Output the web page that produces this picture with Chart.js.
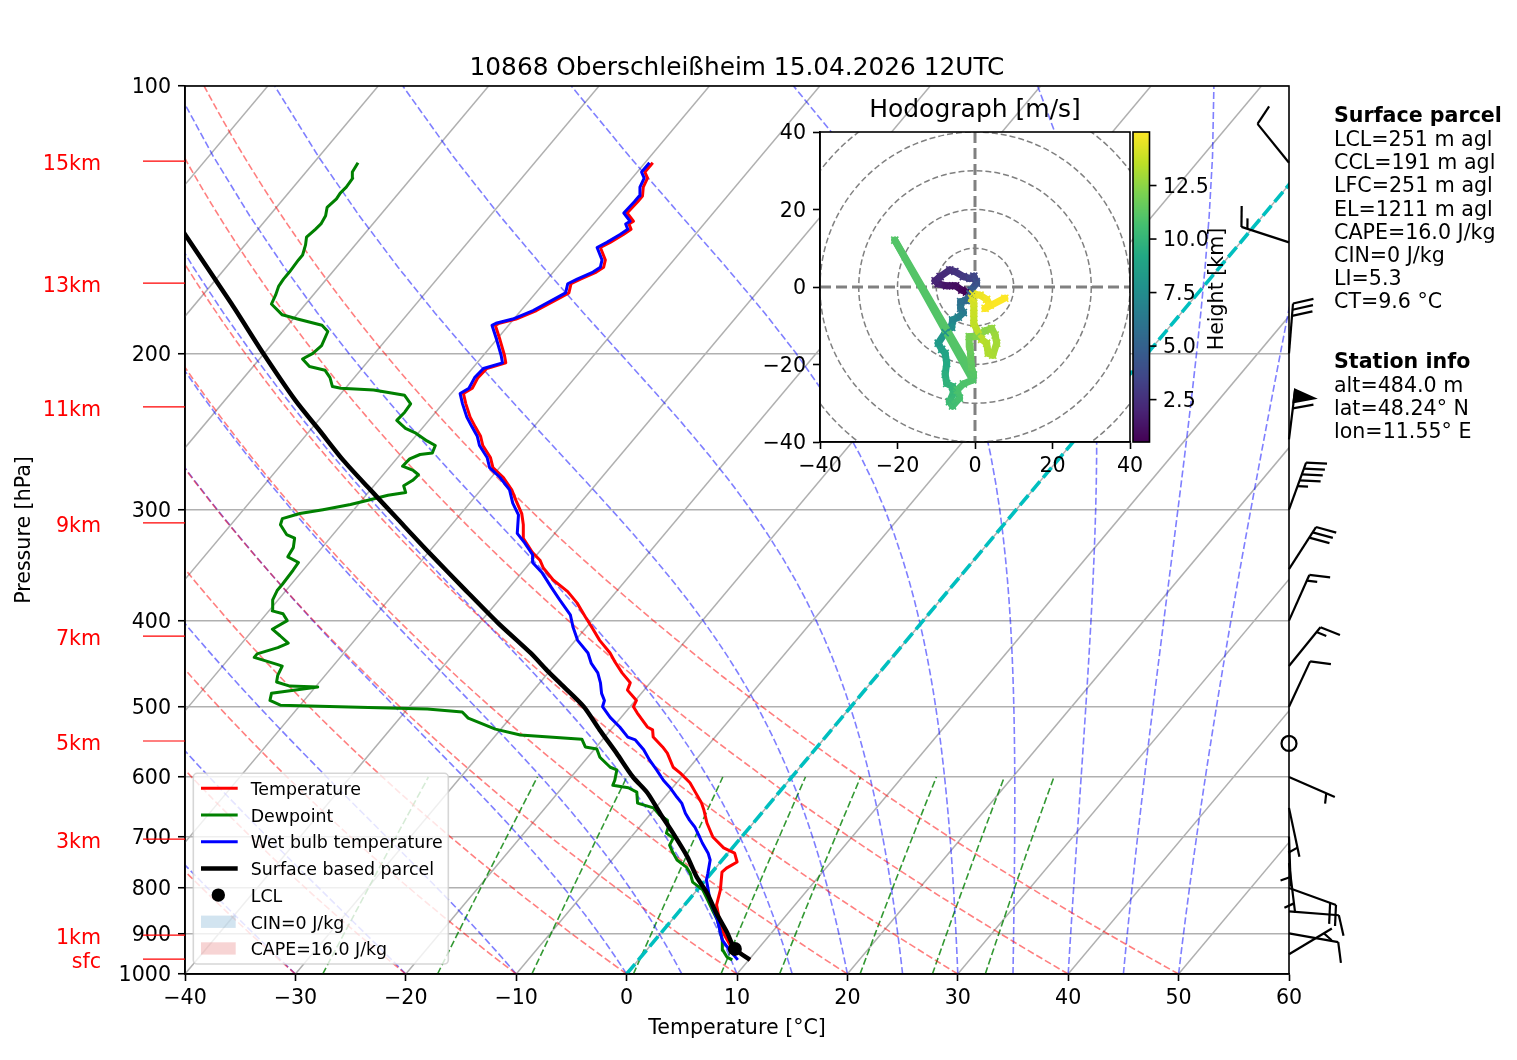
<!DOCTYPE html>
<html lang="en">
<head>
<meta charset="UTF-8">
<title>10868 Oberschleißheim skew-T</title>
<script src="https://cdn.jsdelivr.net/npm/chart.js"></script>
<style>
  * { margin: 0; padding: 0; box-sizing: border-box; }
  body { width: 1517px; height: 1060px; background: #fff; position: relative; overflow: hidden; }
  #skewt { position: absolute; left: 0; top: 0; }
  #hodo { position: absolute; left: 700px; top: 80px; }
</style>
</head>
<body>
<canvas id="skewt" width="1517" height="1060"></canvas>
<canvas id="hodo" width="560" height="420"></canvas>
<script>
// ---- sounding data ----
const tempPressure = [964, 947, 928, 904, 874, 836, 804, 768, 760, 748,
  731, 721, 701, 676, 653, 642, 624, 609, 594, 585,
  564, 555, 541, 531, 527, 508, 500, 492, 479, 470,
  458, 445, 435, 421, 407, 396, 382, 371, 360, 349,
  342, 335, 323, 312, 303, 293, 285, 276, 269, 262,
  254, 248, 242, 236, 228, 222, 219, 213, 208, 205,
  201, 193, 186, 185, 183, 179, 173, 171, 167, 165,
  162, 160, 157, 152, 150, 147, 145, 143, 142, 139,
  135, 133, 130, 127, 125, 122];
const temperature = [10.1, 8.7, 7.2, 5.9, 4.5, 2.9, 2.1, 0.9, 1.0, 1.5,
  0.6, -0.8, -2.6, -4.2, -5.5, -6.2, -7.6, -8.8, -10.4, -11.5,
  -13.1, -14.0, -15.6, -16.2, -16.9, -18.9, -19.7, -19.9, -21.5, -21.8,
  -23.3, -24.8, -25.9, -27.8, -29.5, -30.9, -32.7, -34.4, -36.6, -38.4,
  -39.3, -40.6, -42.5, -43.5, -44.5, -46.0, -47.2, -48.9, -50.6, -51.6,
  -53.2, -54.1, -55.3, -56.5, -57.9, -58.9, -58.5, -58.8, -58.7, -57.4,
  -58.1, -59.7, -61.2, -61.0, -59.8, -58.6, -57.4, -57.0, -57.5, -57.0,
  -56.1, -55.8, -56.2, -57.6, -57.1, -56.5, -56.2, -56.8, -56.6, -57.8,
  -57.7, -57.7, -58.3, -58.6, -59.3, -59.3];

const dewPressure = [964, 957, 940, 916, 892, 869, 847, 825, 804, 788,
  770, 758, 744, 729, 716, 703, 694, 683, 671, 662,
  650, 642, 624, 617, 613, 605, 589, 585, 570, 558,
  555, 544, 538, 530, 515, 507, 503, 498, 492, 483,
  475, 474, 469, 461, 450, 448, 440, 436, 429, 424,
  416, 409, 400, 393, 390, 379, 370, 364, 351, 344,
  339, 331, 323, 320, 312, 307, 303, 300, 296, 293,
  289, 287, 282, 278, 274, 271, 268, 263, 260, 259,
  254, 251, 246, 243, 238, 233, 228, 223, 220, 219,
  218, 213, 209, 207, 203, 200, 196, 189, 186, 183,
  181, 176, 172, 168, 165, 162, 157, 155, 151, 148,
  145, 143, 140, 137, 134, 132, 130, 127, 125, 122];
const dewpoint = [8.5, 7.8, 6.9, 6.1, 5.1, 4.1, 2.9, 1.7, 0.5, -1.0,
  -1.9, -2.7, -4.1, -5.1, -5.9, -6.1, -7.1, -7.4, -8.0, -9.1,
  -10.2, -12.0, -12.9, -14.0, -15.6, -15.8, -16.4, -17.2, -18.9, -19.8,
  -21.0, -21.9, -27.8, -30.5, -33.8, -34.8, -38.2, -51.8, -53.1, -53.5,
  -49.8, -52.4, -53.9, -54.3, -54.6, -55.2, -57.8, -57.8, -56.4, -55.8,
  -57.1, -58.3, -57.6, -58.5, -59.7, -60.5, -60.8, -60.8, -60.9, -61.0,
  -62.4, -62.6, -63.2, -64.2, -65.5, -65.8, -64.6, -62.8, -60.7, -59.5,
  -58.0, -56.6, -57.3, -56.9, -56.8, -57.6, -58.9, -58.8, -58.2, -57.2,
  -57.5, -58.6, -60.2, -61.5, -62.9, -62.8, -62.9, -64.1, -67.3, -70.4,
  -71.3, -72.2, -73.2, -74.9, -76.1, -75.6, -75.4, -75.9, -76.9, -79.6,
  -81.3, -83.1, -83.4, -83.8, -83.9, -83.9, -84.0, -84.0, -84.5, -85.0,
  -84.8, -84.7, -84.9, -85.4, -85.2, -85.3, -85.2, -85.3, -85.8, -86.0];

const wbPressure = [964, 940, 916, 869, 825, 804, 784, 770, 744, 731,
  712, 701, 683, 671, 659, 642, 632, 616, 605, 589,
  574, 559, 545, 541, 527, 514, 500, 492, 483, 470,
  458, 447, 435, 421, 407, 394, 379, 367, 353, 344,
  337, 327, 319, 304, 295, 285,
  276, 269, 262, 254, 248, 242, 236, 228, 222, 219,
  213, 208, 205, 201, 193, 186, 185, 183, 179, 173,
  171, 167, 165, 162, 160, 157, 152, 150, 147, 145,
  143, 142, 139, 135, 133, 130, 127, 125, 122];
const wetBulb = [9.0, 7.5, 6.1, 4.1, 1.9, 1.0, 0.1, -0.3, -1.1, -1.8,
  -3.1, -3.8, -5.0, -6.0, -6.9, -8.0, -8.9, -10.3, -11.4, -12.8,
  -14.2, -15.5, -17.0, -17.9, -19.4, -21.0, -22.5, -22.8, -23.6, -24.5,
  -25.5, -26.8, -27.9, -29.8, -31.2, -32.4, -34.5, -36.2, -38.2, -39.8,
  -40.4, -42.0, -43.4, -44.7, -46.1, -47.4,
  -49.2, -50.9, -51.9, -53.5, -54.4, -55.6, -56.8, -58.2, -59.2, -58.8,
  -59.1, -59.0, -57.7, -58.4, -60.0, -61.5, -61.3, -60.1, -58.9, -57.7,
  -57.3, -57.8, -57.3, -56.4, -56.1, -56.5, -57.9, -57.4, -56.8, -56.5,
  -57.1, -56.9, -58.1, -58.0, -58.0, -58.6, -58.9, -59.6, -59.6];

const parcelPressure = [964, 937, 899, 854, 810, 778, 738, 694, 659, 625,
  600, 564, 531, 500, 475, 455, 435, 402, 370, 336,
  308, 285, 264, 244, 226, 200, 176, 147, 129];
const parcelTemp = [10.1, 7.9, 6.0, 3.5, 1.1, -1.0, -3.4, -6.5, -9.2, -11.9,
  -14.4, -17.7, -21.0, -24.2, -27.5, -30.3, -33.1, -38.4, -43.7, -49.8,
  -55.2, -60.0, -64.7, -69.2, -73.6, -80.1, -86.7, -96.2, -103.0];
const lclPressure = 937;
const lclTemp = 7.9;

// wind barbs on the right edge (direction wind comes from, speed in kt)
const barbPressure = [950, 900, 850, 800, 750, 700, 650, 600, 550, 500, 450, 400, 350, 300, 250, 200, 150, 122];
const barbDirection = [59, 100, 94.5, 110, 173, 178, 168, 113.6, 0, 25, 39, 24, 32.7, 20, 7, 4.6, 288, 321];
const barbSpeed = [5, 10, 10, 20, 5, 5, 5, 5, 0, 10, 15, 15, 30, 45, 60, 30, 15, 10];

// height markers on the left
const heightLabels = ['sfc', '1km', '3km', '5km', '7km', '9km', '11km', '13km', '15km'];
const heightPressure = [962, 904, 704.7, 546.5, 416.3, 310.5, 229.8, 166.7, 121.5];

// hodograph (u, v in m/s, height in km)
const hodoHeight = [0.52, 0.7, 1.0, 1.3, 1.7, 2.0, 2.2, 2.4, 2.6, 2.9,
  3.2, 3.5, 3.8, 4.2, 4.6, 5.0, 5.4, 5.8, 6.1, 6.4,
  6.8, 7.2, 7.5, 7.9, 8.3, 8.6, 8.9, 9.2, 9.5, 9.8,
  10.0, 10.1, 10.3, 10.5, 10.7, 10.8, 10.9, 11.0, 11.05, 11.1,
  11.3, 11.5, 11.8, 12.0, 12.2, 12.4, 12.6, 12.8, 13.0, 13.1,
  13.2, 13.3, 13.4, 13.6, 13.8, 14.0, 14.2, 14.4, 14.6, 14.8,
  14.9, 14.95, 15.0];
const hodoU = [-2.2, -3.4, -5.0, -7.3, -9.5, -10.3, -9.0, -6.5, -5.2, -3.0,
  -1.3, -0.3, 0.3, 0.4, -1.0, -1.3, -2.3, -3.7, -3.7, -3.0,
  -4.3, -5.8, -6.0, -7.7, -9.5, -8.6, -7.7, -7.3, -7.7, -7.3,
  -5.8, -5.6, -6.6, -5.8, -4.0, -4.6, -3.0, -0.6, -20.7, -0.4,
  -0.9, -1.1, -1.3, -1.5, 0.4, 2.6, 4.3, 5.2, 5.6, 4.6,
  3.4, 3.0, 1.7, -0.3, -0.3, -0.3, -0.9, -0.6, 1.3, 3.0,
  3.9, 2.6, 7.7];
const hodoV = [-1.3, -0.8, 0.3, 0.3, 0.8, 1.6, 2.7, 4.4, 4.0, 2.7,
  2.2, 2.8, 1.4, 1.0, -0.8, -1.8, -3.5, -3.8, -5.5, -6.6,
  -7.8, -8.5, -10.4, -11.8, -14.5, -16.1, -17.1, -19.7, -22.5, -24.9,
  -25.7, -27.4, -29.6, -30.7, -28.7, -26.6, -25.0, -24.0, 12.1, -22.7,
  -20.6, -18.0, -15.4, -12.8, -12.8, -11.3, -10.7, -12.4, -14.5, -17.6,
  -17.1, -14.5, -13.5, -9.4, -6.8, -4.2, -2.9, -1.8, -2.1, -3.2,
  -4.7, -5.5, -2.9];
const colorbarTicks = [2.5, 5.0, 7.5, 10.0, 12.5];

// background reference lines
const isothermTemps = [-110, -100, -90, -80, -70, -60, -50, -40, -30, -20, -10, 0, 10, 20, 30, 40, 50, 60];
const dryAdiabatT0 = [-40, -30, -20, -10, 0, 10, 20, 30, 40, 50];
const moistAdiabatT0 = [-40, -30, -20, -10, 0, 5, 10, 15, 20, 25, 30, 35, 40, 45, 50];
const mixingRatios = [0.0004, 0.001, 0.002, 0.004, 0.007, 0.01, 0.016, 0.024, 0.032];

const titleText = '10868 Oberschleißheim 15.04.2026 12UTC';
const parcelInfo = ['LCL=251 m agl', 'CCL=191 m agl', 'LFC=251 m agl', 'EL=1211 m agl',
  'CAPE=16.0 J/kg', 'CIN=0 J/kg', 'LI=5.3', 'CT=9.6 °C'];
const stationInfo = ['alt=484.0 m', 'lat=48.24° N', 'lon=11.55° E'];

const FONT = "'DejaVu Sans', 'Liberation Sans', sans-serif";
Chart.defaults.font.family = FONT;
Chart.defaults.color = '#000';

// ---- skew transform: x = T + SKEW * log10(1000/p) ----
const SKEW = 67.5;
function skewX(t, p) { return t + SKEW * Math.log10(1000 / p); }
function toPoints(pres, temps) {
  const n = Math.min(pres.length, temps.length);
  const out = [];
  for (let i = 0; i < n; i++) out.push({ x: skewX(temps[i], pres[i]), y: pres[i] });
  return out;
}

const bgLevels = [];
for (let i = 0; i <= 45; i++) bgLevels.push(1000 * Math.pow(10, -i / 45));

function dryAdiabat(t0) {
  return bgLevels.map(p => ({ x: skewX((t0 + 273.15) * Math.pow(p / 1000, 0.2857) - 273.15, p), y: p }));
}

function satMix(p, tK) {
  const tc = tK - 273.15;
  const es = 6.112 * Math.exp(17.67 * tc / (tc + 243.5));
  return 0.6219569 * es / (p - es);
}
function dTdp(p, tK) {
  const rs = satMix(p, tK);
  const Rd = 287.04749, Lv = 2.50084e6, Cp = 1004.6662, eps = 0.6219569;
  return (1 / p) * (Rd * tK + Lv * rs) / (Cp + Lv * Lv * rs * eps / (Rd * tK * tK));
}
function moistAdiabat(t0) {
  const pts = [{ x: skewX(t0, 1000), y: 1000 }];
  let p = 1000, t = t0 + 273.15;
  const dp = -5;
  while (p > 100) {
    const k1 = dTdp(p, t);
    const k2 = dTdp(p + dp / 2, t + dp / 2 * k1);
    const k3 = dTdp(p + dp / 2, t + dp / 2 * k2);
    const k4 = dTdp(p + dp, t + dp * k3);
    t += dp / 6 * (k1 + 2 * k2 + 2 * k3 + k4);
    p += dp;
    if ((1000 - p) % 20 === 0 || p <= 100) pts.push({ x: skewX(t - 273.15, p), y: p });
  }
  return pts;
}
function mixingLine(w) {
  const pts = [];
  for (let p = 1000; p >= 600; p -= 40) {
    const e = w * p / (0.6219569 + w);
    const l = Math.log(e / 6.112);
    pts.push({ x: skewX(243.5 * l / (17.67 - l), p), y: p });
  }
  return pts;
}

function lineSet(data, color, width, dash, order) {
  return {
    type: 'line', data: data, borderColor: color, borderWidth: width,
    borderDash: dash || [], pointRadius: 0, fill: false, tension: 0,
    order: order, clip: 0, borderJoinStyle: 'round'
  };
}

const datasets = [];
isothermTemps.forEach(t => datasets.push(lineSet([{ x: skewX(t, 1000), y: 1000 }, { x: skewX(t, 100), y: 100 }], '#b0b0b0', 1.5, null, 20)));
dryAdiabatT0.forEach(t => datasets.push(lineSet(dryAdiabat(t), 'rgba(255,0,0,0.5)', 1.6, [7, 3], 15)));
moistAdiabatT0.forEach(t => datasets.push(lineSet(moistAdiabat(t), 'rgba(0,0,255,0.5)', 1.6, [7, 3], 15)));
mixingRatios.forEach(w => datasets.push(lineSet(mixingLine(w), 'rgba(0,128,0,0.8)', 1.6, [7, 3], 15)));
datasets.push(lineSet([{ x: skewX(0, 1000), y: 1000 }, { x: skewX(0, 100), y: 100 }], '#00bfbf', 3.6, [13, 5], 10));
datasets.push(lineSet(toPoints(tempPressure, temperature), '#ff0000', 3, null, 4));
datasets.push(lineSet(toPoints(dewPressure, dewpoint), '#008000', 3, null, 3));
datasets.push(lineSet(toPoints(wbPressure, wetBulb), '#0000ff', 3, null, 2));
const parcelSet = lineSet(toPoints(parcelPressure, parcelTemp), '#000000', 4.5, null, 1);
parcelSet.tension = 0.25;
datasets.push(parcelSet);
datasets.push({
  type: 'line', data: [{ x: skewX(lclTemp, lclPressure), y: lclPressure }], showLine: false,
  pointRadius: 7, pointBackgroundColor: '#000', pointBorderWidth: 0, order: 0, clip: 10
});

// ---- wind barb drawing, matplotlib style ----
function drawBarb(ctx, x, y, dirDeg, speed) {
  const L = 50, h = 0.4 * L, w = 0.25 * L, sp = 0.125 * L;
  ctx.beginPath();
  if (speed < 2.5) {
    ctx.arc(x, y, 0.15 * L, 0, Math.PI * 2);
    ctx.stroke();
    return;
  }
  const a = dirDeg * Math.PI / 180;
  const sx = Math.sin(a), sy = -Math.cos(a);
  const px = -sy, py = sx;
  const tx = x + sx * L, ty = y + sy * L;
  let mag = Math.round(speed / 5) * 5;
  const nFlag = Math.floor(mag / 50); mag -= nFlag * 50;
  const nFull = Math.floor(mag / 10); mag -= nFull * 10;
  const half = mag >= 5;
  ctx.moveTo(x, y); ctx.lineTo(tx, ty); ctx.stroke();
  let off = 0;
  for (let i = 0; i < nFlag; i++) {
    ctx.beginPath();
    ctx.moveTo(tx - sx * off, ty - sy * off);
    ctx.lineTo(tx - sx * (off + w / 2) + px * h, ty - sy * (off + w / 2) + py * h);
    ctx.lineTo(tx - sx * (off + w), ty - sy * (off + w));
    ctx.closePath(); ctx.fill(); ctx.stroke();
    off += w + sp;
  }
  for (let i = 0; i < nFull; i++) {
    const rx = tx - sx * off, ry = ty - sy * off;
    ctx.beginPath(); ctx.moveTo(rx, ry);
    ctx.lineTo(rx + px * h + sx * w / 2, ry + py * h + sy * w / 2); ctx.stroke();
    off += sp;
  }
  if (half) {
    if (off === 0) off = 1.5 * sp;
    const rx = tx - sx * off, ry = ty - sy * off;
    ctx.beginPath(); ctx.moveTo(rx, ry);
    ctx.lineTo(rx + px * h / 2 + sx * w / 4, ry + py * h / 2 + sy * w / 4); ctx.stroke();
  }
}

const skewDecor = {
  id: 'skewDecor',
  beforeDraw(chart) {
    const ctx = chart.ctx;
    ctx.save(); ctx.fillStyle = '#fff'; ctx.fillRect(0, 0, chart.width, chart.height); ctx.restore();
  },
  afterDraw(chart) {
    const { ctx, chartArea: a } = chart;
    const ys = chart.scales.y;
    ctx.save();
    ctx.strokeStyle = '#000'; ctx.lineWidth = 1.6;
    ctx.strokeRect(a.left, a.top, a.right - a.left, a.bottom - a.top);

    // title and axis labels
    ctx.fillStyle = '#000'; ctx.textAlign = 'center'; ctx.textBaseline = 'alphabetic';
    ctx.font = '24.8px ' + FONT;
    ctx.fillText(titleText, (a.left + a.right) / 2, 75);
    ctx.font = '20.6px ' + FONT;
    ctx.fillText('Temperature [°C]', (a.left + a.right) / 2, 1034);
    ctx.save();
    ctx.translate(30, (a.top + a.bottom) / 2); ctx.rotate(-Math.PI / 2);
    ctx.fillText('Pressure [hPa]', 0, 0);
    ctx.restore();

    // height markers
    ctx.strokeStyle = '#ff0000'; ctx.fillStyle = '#ff0000'; ctx.lineWidth = 1.2; ctx.textAlign = 'right';
    heightLabels.forEach((lab, i) => {
      const y = ys.getPixelForValue(heightPressure[i]);
      ctx.beginPath(); ctx.moveTo(143, y); ctx.lineTo(a.left, y); ctx.stroke();
      ctx.fillText(lab, 101, y + 9);
    });

    // wind barbs
    ctx.strokeStyle = '#000'; ctx.fillStyle = '#000'; ctx.lineWidth = 2.2; ctx.lineJoin = 'miter';
    barbPressure.forEach((p, i) => drawBarb(ctx, a.right, ys.getPixelForValue(p), barbDirection[i], barbSpeed[i]));

    // parcel / station text
    ctx.textAlign = 'left'; ctx.fillStyle = '#000';
    ctx.font = 'bold 20.6px ' + FONT;
    ctx.fillText('Surface parcel', 1334, 122);
    ctx.font = '20.6px ' + FONT;
    parcelInfo.forEach((t, i) => ctx.fillText(t, 1334, 146 + i * 23.2));
    ctx.font = 'bold 20.6px ' + FONT;
    ctx.fillText('Station info', 1334, 368.3);
    ctx.font = '20.6px ' + FONT;
    stationInfo.forEach((t, i) => ctx.fillText(t, 1334, 391.7 + i * 23.2));

    // legend
    const lx = 193.3, ly = 773.3, lw = 255, lh = 190.7;
    ctx.beginPath();
    ctx.roundRect(lx, ly, lw, lh, 4);
    ctx.fillStyle = 'rgba(255,255,255,0.8)'; ctx.fill();
    ctx.strokeStyle = 'rgba(204,204,204,0.8)'; ctx.lineWidth = 1.6; ctx.stroke();
    const entries = [
      { label: 'Temperature', kind: 'line', color: '#ff0000', width: 3 },
      { label: 'Dewpoint', kind: 'line', color: '#008000', width: 3 },
      { label: 'Wet bulb temperature', kind: 'line', color: '#0000ff', width: 3 },
      { label: 'Surface based parcel', kind: 'line', color: '#000000', width: 4.5 },
      { label: 'LCL', kind: 'dot', color: '#000000' },
      { label: 'CIN=0 J/kg', kind: 'patch', color: 'rgba(31,119,180,0.2)' },
      { label: 'CAPE=16.0 J/kg', kind: 'patch', color: 'rgba(214,39,40,0.2)' }
    ];
    ctx.font = '17.4px ' + FONT;
    entries.forEach((e, i) => {
      const cy = 788.3 + i * 26.7;
      if (e.kind === 'line') {
        ctx.strokeStyle = e.color; ctx.lineWidth = e.width;
        ctx.beginPath(); ctx.moveTo(201, cy); ctx.lineTo(237.7, cy); ctx.stroke();
      } else if (e.kind === 'dot') {
        ctx.fillStyle = e.color; ctx.beginPath(); ctx.arc(218.3, cy, 6.7, 0, Math.PI * 2); ctx.fill();
      } else {
        ctx.fillStyle = e.color; ctx.fillRect(201, cy - 6.2, 34.7, 12.3);
      }
      ctx.fillStyle = '#000';
      ctx.fillText(e.label, 250.7, cy + 6.7);
    });
    ctx.restore();
  }
};

new Chart(document.getElementById('skewt'), {
  type: 'line',
  data: { datasets: datasets },
  options: {
    responsive: false, animation: false, devicePixelRatio: 1, events: [],
    layout: { padding: { left: 0, top: 86, right: 228, bottom: 0 } },
    plugins: { legend: { display: false }, tooltip: { enabled: false } },
    scales: {
      x: {
        type: 'linear', position: 'bottom', min: -40, max: 60,
        afterFit: s => { s.height = 86; },
        ticks: { stepSize: 10, font: { size: 20.6 }, color: '#000', padding: 5, maxRotation: 0, autoSkip: false,
          callback: v => String(v).replace('-', '\u2212') },
        grid: { drawOnChartArea: false, tickLength: 7, tickColor: '#000', tickWidth: 1.6 },
        border: { color: '#000', width: 1.6 }
      },
      y: {
        type: 'logarithmic', position: 'left', min: 100, max: 1000, reverse: true,
        afterFit: s => { s.width = 185; },
        afterBuildTicks: s => { s.ticks = [100, 200, 300, 400, 500, 600, 700, 800, 900, 1000].map(v => ({ value: v })); },
        ticks: { font: { size: 20.6 }, color: '#000', padding: 7, autoSkip: false, labelOffset: 2,
          callback: v => String(Math.round(v)) },
        grid: { color: '#b0b0b0', lineWidth: 1.5, tickLength: 7, tickColor: '#000', tickWidth: 1.6 },
        border: { color: '#000', width: 1.6 }
      }
    }
  },
  plugins: [skewDecor]
});

// ---- hodograph ----
const VIRIDIS = ['#440154', '#482475', '#414487', '#355f8d', '#2a788e', '#21918c', '#22a884', '#44bf70', '#7ad151', '#bddf26', '#fde725'];
function hexRgb(h) { return [parseInt(h.substr(1, 2), 16), parseInt(h.substr(3, 2), 16), parseInt(h.substr(5, 2), 16)]; }
function viridis(t) {
  t = Math.max(0, Math.min(1, t));
  const s = t * 10, i = Math.min(9, Math.floor(s)), f = s - i;
  const c0 = hexRgb(VIRIDIS[i]), c1 = hexRgb(VIRIDIS[i + 1]);
  return 'rgb(' + c0.map((c, k) => Math.round(c + (c1[k] - c) * f)).join(',') + ')';
}
const hMin = Math.min(...hodoHeight), hMax = Math.max(...hodoHeight);
const hNorm = h => (h - hMin) / (hMax - hMin);
const hodoPoints = hodoU.map((u, i) => ({ x: u, y: hodoV[i] }));
const hodoColors = hodoHeight.map(h => viridis(hNorm(h)));

const hodoDecor = {
  id: 'hodoDecor',
  beforeDraw(chart) {
    const { ctx, chartArea: a } = chart;
    ctx.save(); ctx.fillStyle = '#fff'; ctx.fillRect(a.left, a.top, a.right - a.left, a.bottom - a.top); ctx.restore();
  },
  beforeDatasetsDraw(chart) {
    const { ctx, chartArea: a } = chart;
    const xs = chart.scales.x, ys = chart.scales.y;
    const cx = xs.getPixelForValue(0), cy = ys.getPixelForValue(0);
    ctx.save();
    ctx.beginPath(); ctx.rect(a.left, a.top, a.right - a.left, a.bottom - a.top); ctx.clip();
    ctx.strokeStyle = '#808080'; ctx.lineWidth = 1.5; ctx.setLineDash([6, 3]);
    [10, 20, 30, 40, 50].forEach(r => {
      const rp = xs.getPixelForValue(r) - cx;
      ctx.beginPath(); ctx.arc(cx, cy, rp, 0, Math.PI * 2); ctx.stroke();
    });
    ctx.lineWidth = 3; ctx.setLineDash([11, 5]);
    ctx.beginPath(); ctx.moveTo(a.left, cy); ctx.lineTo(a.right, cy); ctx.stroke();
    ctx.beginPath(); ctx.moveTo(cx, a.top); ctx.lineTo(cx, a.bottom); ctx.stroke();
    ctx.restore();
  },
  afterDraw(chart) {
    const { ctx, chartArea: a } = chart;
    ctx.save();
    ctx.strokeStyle = '#000'; ctx.lineWidth = 1.6;
    ctx.strokeRect(a.left, a.top, a.right - a.left, a.bottom - a.top);
    ctx.fillStyle = '#000'; ctx.textAlign = 'center'; ctx.textBaseline = 'alphabetic';
    ctx.font = '25px ' + FONT;
    ctx.fillText('Hodograph [m/s]', (a.left + a.right) / 2, 36.7);

    // colorbar
    const bx = 433, bw = 16.5, top = a.top, bot = a.bottom, bh = bot - top;
    for (let j = 0; j < bh; j++) {
      ctx.fillStyle = viridis(1 - (j + 0.5) / bh);
      ctx.fillRect(bx, top + j, bw, 1.2);
    }
    ctx.strokeStyle = '#000'; ctx.lineWidth = 1.6;
    ctx.strokeRect(bx, top, bw, bh);
    ctx.font = '20.6px ' + FONT; ctx.textAlign = 'left'; ctx.fillStyle = '#000';
    colorbarTicks.forEach(v => {
      const y = bot - hNorm(v) * bh;
      ctx.beginPath(); ctx.moveTo(bx + bw, y); ctx.lineTo(bx + bw + 7, y); ctx.stroke();
      ctx.fillText(v.toFixed(1), bx + bw + 13.5, y + 7.3);
    });
    ctx.save();
    ctx.translate(523, (top + bot) / 2 + 2); ctx.rotate(-Math.PI / 2);
    ctx.textAlign = 'center';
    ctx.fillText('Height [km]', 0, 0);
    ctx.restore();
    ctx.restore();
  }
};

new Chart(document.getElementById('hodo'), {
  type: 'line',
  data: {
    datasets: [{
      data: hodoPoints, borderWidth: 7, tension: 0, fill: false,
      borderCapStyle: 'round', borderJoinStyle: 'round', clip: 0,
      segment: { borderColor: c => viridis(hNorm((hodoHeight[c.p0DataIndex] + hodoHeight[c.p1DataIndex]) / 2)) },
      pointStyle: 'crossRot', pointRadius: 5, pointBorderWidth: 1.6,
      pointBorderColor: hodoColors, pointBackgroundColor: hodoColors
    }]
  },
  options: {
    responsive: false, animation: false, devicePixelRatio: 1, events: [],
    layout: { padding: { left: 0, top: 52, right: 130, bottom: 0 } },
    plugins: { legend: { display: false }, tooltip: { enabled: false } },
    scales: {
      x: {
        type: 'linear', min: -40, max: 40,
        afterFit: s => { s.height = 58; },
        ticks: { stepSize: 20, font: { size: 20.6 }, color: '#000', padding: 5, maxRotation: 0,
          callback: v => String(v).replace('-', '\u2212') },
        grid: { drawOnChartArea: false, tickLength: 7, tickColor: '#000', tickWidth: 1.6 },
        border: { color: '#000', width: 1.6 }
      },
      y: {
        type: 'linear', min: -40, max: 40,
        afterFit: s => { s.width = 120; },
        ticks: { stepSize: 20, font: { size: 20.6 }, color: '#000', padding: 7, labelOffset: 2,
          callback: v => String(v).replace('-', '\u2212') },
        grid: { drawOnChartArea: false, tickLength: 7, tickColor: '#000', tickWidth: 1.6 },
        border: { color: '#000', width: 1.6 }
      }
    }
  },
  plugins: [hodoDecor]
});
</script>
</body>
</html>
